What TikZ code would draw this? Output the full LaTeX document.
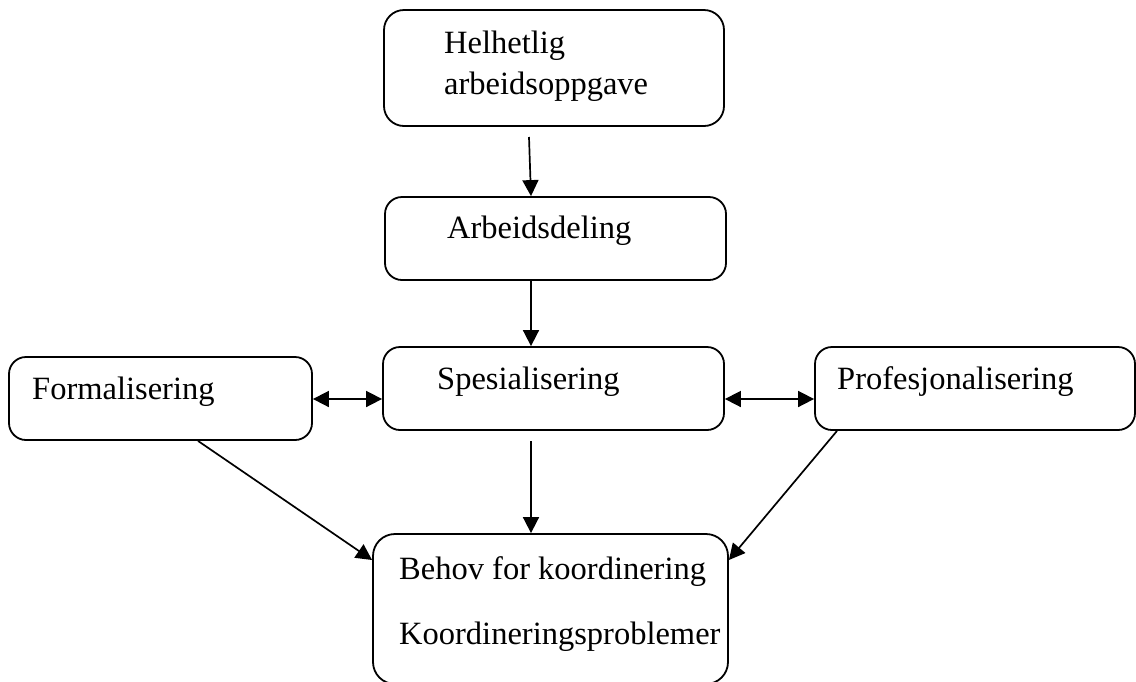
\documentclass[tikz,border=0pt]{standalone}
\usepackage{fontspec}
\setmainfont{Liberation Serif}
\usetikzlibrary{arrows.meta}
\begin{document}
\begin{tikzpicture}[x=1pt,y=-1pt,
  box/.style={draw, line width=1.8pt, rounded corners=17pt, inner sep=0pt},
  lbl/.style={anchor=base west, inner sep=0pt, font=\fontsize{32.5}{40}\selectfont},
  arr/.style={line width=1.7pt, -{Triangle[length=16pt,width=16pt]}},
  darr/.style={line width=1.7pt, {Triangle[length=16pt,width=16pt]}-{Triangle[length=16pt,width=16pt]}}]
\clip (0,0) rectangle (1136,681);
\useasboundingbox (0,0) rectangle (1136,681);

% boxes
\node[box, minimum width=340pt, minimum height=116pt, rounded corners=20pt] (hel) at (554,68) {};
\node[box, minimum width=341pt, minimum height=83pt] (arb) at (555.5,238.5) {};
\node[box, minimum width=341pt, minimum height=83pt] (spe) at (553.5,388.5) {};
\node[box, minimum width=303pt, minimum height=83pt] (form) at (160.5,398.5) {};
\node[box, minimum width=320pt, minimum height=83pt] (prof) at (975,388.5) {};
\node[box, minimum width=355pt, minimum height=150pt, rounded corners=22pt] (beh) at (550.5,609) {};

% labels
\node[lbl] (tHel1) at (444,53) {Helhetlig};
\node[lbl] (tHel2) at (444,94) {arbeidsoppgave};
\node[lbl] (tArb) at (447,238) {Arbeidsdeling};
\node[lbl] (tSpe) at (437,389) {Spesialisering};
\node[lbl] (tForm) at (32,399) {Formalisering};
\node[lbl] (tProf) at (837,389) {Profesjonalisering};
\node[lbl] (tBeh1) at (399,579) {Behov for koordinering};
\node[lbl] (tBeh2) at (399,644) {Koordineringsproblemer};

% reference points for connector ends
\coordinate (xcol) at (531,0);
\coordinate (ymid) at (0,399);
\coordinate (a1s) at (529,137);
\coordinate (a3s) at (531,441);
\coordinate (dl) at (198,0);
\coordinate (dr) at (837,0);
\coordinate (yend) at (0,560);

% connectors
\draw[arr] (a1s) -- (arb.north -| xcol);
\draw[arr] (arb.south -| xcol) -- (spe.north -| xcol);
\draw[arr] (a3s) -- (beh.north -| xcol);
\draw[darr] (form.east |- ymid) -- (spe.west |- ymid);
\draw[darr] (spe.east |- ymid) -- (prof.west |- ymid);
\draw[arr] (form.south -| dl) -- (beh.west |- yend);
\draw[arr] (prof.south -| dr) -- (beh.east |- yend);
\end{tikzpicture}
\end{document}
